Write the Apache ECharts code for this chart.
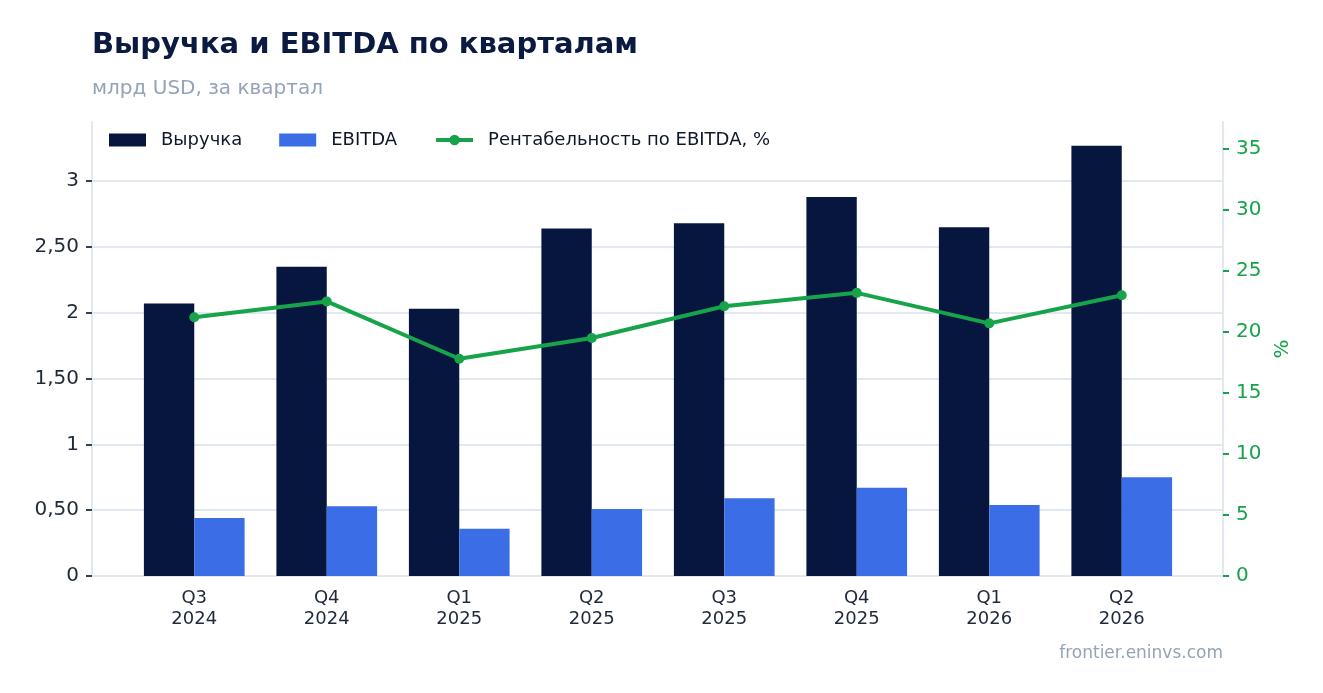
<!DOCTYPE html>
<html lang="ru">

<head>
    <meta charset="UTF-8">
    <title>Выручка и EBITDA по кварталам</title>
    <style>
        html, body {
            margin: 0;
            padding: 0;
            background: #fff;
        }

        #chart {
            width: 1323px;
            height: 693px;
        }
    </style>
</head>

<body>
    <div id="chart"></div>
</body>
<script src="https://cdn.jsdelivr.net/npm/echarts@6/dist/echarts.min.js"></script>
<script>
    // кварталы
    const quarters = ['Q3\n2024', 'Q4\n2024', 'Q1\n2025', 'Q2\n2025', 'Q3\n2025', 'Q4\n2025', 'Q1\n2026', 'Q2\n2026'];
    // млрд USD
    const revenue = [2.07, 2.35, 2.03, 2.64, 2.68, 2.88, 2.65, 3.27];
    const ebitda = [0.44, 0.53, 0.36, 0.51, 0.59, 0.67, 0.54, 0.75];
    // %
    const margin = [21.2, 22.5, 17.8, 19.5, 22.1, 23.2, 20.7, 23.0];

    const font = 'DejaVu Sans';
    const green = '#16a34a';
    const lightLine = '#e2e8f0';
    const leftMax = 3.45;
    const rightMax = 37.2;

    var chart = echarts.init(document.getElementById('chart'));
    var option = {
        backgroundColor: '#fff',
        textStyle: { fontFamily: font },
        title: [
            {
                text: 'Выручка и EBITDA по кварталам',
                left: 87,
                top: 26,
                textStyle: { fontFamily: font, fontSize: 29, fontWeight: 'bold', color: '#0b1a40' }
            },
            {
                text: 'млрд USD, за квартал',
                left: 87,
                top: 74,
                textStyle: { fontFamily: font, fontSize: 20, fontWeight: 'normal', color: '#94a3b8' }
            },
            {
                text: 'frontier.eninvs.com',
                right: 95,
                top: 640,
                textStyle: { fontFamily: font, fontSize: 17, fontWeight: 'normal', color: '#94a3b8' }
            }
        ],
        legend: {
            left: 104,
            top: 126,
            itemWidth: 37,
            itemHeight: 13,
            itemGap: 37,
            textStyle: { fontFamily: font, fontSize: 18, color: '#0f172a', padding: [0, 0, 0, 10] },
            data: [
                { name: 'Выручка', icon: 'rect' },
                { name: 'EBITDA', icon: 'rect' },
                { name: 'Рентабельность по EBITDA, %', lineStyle: { width: 4 } }
            ]
        },
        // рамка с осями значений и внутренняя сетка под столбцы
        grid: [
            { left: 92, right: 100, top: 122, bottom: 117 },
            { left: 128, right: 135, top: 122, bottom: 117 }
        ],
        xAxis: [
            {
                type: 'value',
                gridIndex: 0,
                min: 0,
                max: 1,
                axisLine: { show: true, lineStyle: { color: lightLine, width: 2 } },
                axisTick: { show: false },
                axisLabel: { show: false },
                splitLine: { show: false }
            },
            {
                type: 'category',
                gridIndex: 1,
                data: quarters,
                axisLine: { show: false },
                axisTick: { alignWithLabel: true, length: 6, lineStyle: { color: '#334155', width: 2 } },
                axisLabel: { fontFamily: font, fontSize: 18, color: '#1e293b', lineHeight: 21, margin: 12 }
            }
        ],
        yAxis: [
            {
                type: 'value',
                gridIndex: 0,
                min: 0,
                max: leftMax,
                interval: 0.5,
                axisLine: { show: true, lineStyle: { color: lightLine, width: 2 } },
                axisTick: { show: true, length: 6, lineStyle: { color: '#334155', width: 2 } },
                axisLabel: {
                    fontFamily: font,
                    fontSize: 20,
                    color: '#1e293b',
                    margin: 13,
                    showMaxLabel: false,
                    formatter: function (v) {
                        if (Number.isInteger(v)) return String(v);
                        return v.toFixed(2).replace('.', ',');
                    }
                },
                splitLine: { showMaxLine: false, lineStyle: { color: lightLine, width: 2 } }
            },
            {
                type: 'value',
                gridIndex: 0,
                position: 'right',
                min: 0,
                max: rightMax,
                interval: 5,
                name: '%',
                nameLocation: 'middle',
                nameGap: 50,
                nameRotate: 90,
                nameTextStyle: { fontFamily: font, fontSize: 20, color: green },
                axisLine: { show: true, lineStyle: { color: lightLine, width: 2 } },
                axisTick: { show: true, length: 6, lineStyle: { color: green, width: 2 } },
                axisLabel: { fontFamily: font, fontSize: 20, color: green, margin: 13, showMaxLabel: false },
                splitLine: { show: false }
            },
            {
                type: 'value',
                gridIndex: 1,
                min: 0,
                max: leftMax,
                show: false
            },
            {
                type: 'value',
                gridIndex: 1,
                min: 0,
                max: rightMax,
                show: false
            }
        ],
        series: [
            {
                name: 'Выручка',
                type: 'bar',
                xAxisIndex: 1,
                yAxisIndex: 2,
                data: revenue,
                barGap: '0%',
                barCategoryGap: '24%',
                itemStyle: { color: '#06163f' }
            },
            {
                name: 'EBITDA',
                type: 'bar',
                xAxisIndex: 1,
                yAxisIndex: 2,
                data: ebitda,
                itemStyle: { color: '#3b6de6' }
            },
            {
                name: 'Рентабельность по EBITDA, %',
                type: 'line',
                xAxisIndex: 1,
                yAxisIndex: 3,
                data: margin,
                symbol: 'circle',
                symbolSize: 10,
                lineStyle: { color: green, width: 4 },
                itemStyle: { color: green }
            }
        ]
    };
    chart.setOption(option);
</script>

</html>
